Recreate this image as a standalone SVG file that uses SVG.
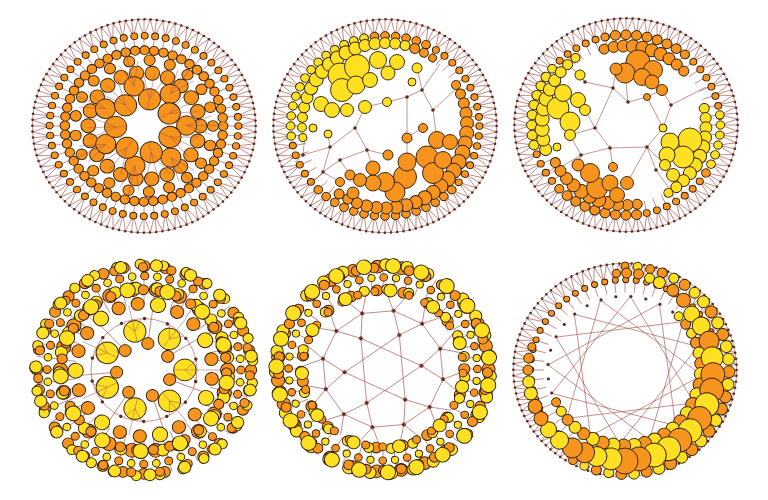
<svg xmlns="http://www.w3.org/2000/svg" width="768" height="500" viewBox="0 0 768 500">
<style>
.o{fill:#f7941d;stroke:#2b1a0c;stroke-width:.9}
.y{fill:#fde022;stroke:#2b1a0c;stroke-width:.9}
.e{fill:none;stroke:#a24c45;stroke-width:.6}
.d{fill:#5c2b1d}
.rk,.ro,.ry,.rd{fill:none;stroke-linecap:round}
.rk{stroke:#2b1a0c}.ro{stroke:#f7941d}.ry{stroke:#fde022}.rd{stroke:#5c2b1d}
</style>
<rect width="768" height="500" fill="#fff"/>
<defs>
<path id="f" d="M-6.17,-109.83L0,-93L6.17,-109.83L10.41,-92.41L18.43,-108.45L20.69,-90.67L30.45,-105.7L30.72,-87.78L42.1,-101.63M0,-110V-80M12.32,-109.31L10.41,-92.41L8.96,-79.5M24.48,-107.24L20.69,-90.67L17.8,-78M36.33,-103.83L30.72,-87.78L26.42,-75.51"/>
<path id="t4" d="M0,-67V-106M8.75,-66.43L13.84,-105.09M17.34,-64.72L27.43,-102.39M25.64,-61.9L40.56,-97.93"/>
<path id="t5" d="M0,-80V-104M10.44,-79.32L13.58,-103.11M20.71,-77.27L26.92,-100.46M30.61,-73.91L39.8,-96.08"/>
<path id="ea" d="M0,-17V-56M0,-28L11.44,-53.8M0,-28L-11.44,-53.8"/>
<path id="eb" d="M0,-42V-78M0,-42L9.5,-66.3M0,-42L-9.5,-66.3"/>
<path id="ec" d="M0,-21V-67"/>
<path id="ed" d="M0,-29V-67M0,-40L9,-51M0,-40L-9,-51"/>
<g id="pr">
<path d="M0,-60L30,-51.96L51.96,-30M0,-60L9.83,-36.71L30,-51.96M9.83,-36.71L26.87,26.87M0,-60L-11,-78.2M0,-60L11,-78.2M30,-51.96L29.6,-73.25M30,-51.96L48.64,-62.25"/>
<circle class="d" cy="-60" r="1.8"/><circle class="d" cx="30" cy="-51.96" r="1.8"/><circle class="d" cx="9.83" cy="-36.71" r="1.8"/>
</g>
</defs>

<!-- Panel 1 -->
<g id="p1" transform="translate(144,126)">
<g transform="scale(1.015,0.97)">
<g class="e"><circle r="110"/><use href="#f"/><use href="#f" transform="rotate(25.714)"/><use href="#f" transform="rotate(51.429)"/><use href="#f" transform="rotate(77.143)"/><use href="#f" transform="rotate(102.857)"/><use href="#f" transform="rotate(128.571)"/><use href="#f" transform="rotate(154.286)"/><use href="#f" transform="rotate(180)"/><use href="#f" transform="rotate(205.714)"/><use href="#f" transform="rotate(231.429)"/><use href="#f" transform="rotate(257.143)"/><use href="#f" transform="rotate(282.857)"/><use href="#f" transform="rotate(308.571)"/><use href="#f" transform="rotate(334.286)"/></g>
<circle r="110" class="rd" stroke-width="2.6" stroke-dasharray="0 6.171"/>
<circle r="93" class="rk" stroke-width="7.9" stroke-dasharray="0 10.4346"/>
<circle r="93" class="ro" stroke-width="6.1" stroke-dasharray="0 10.4346"/>
<circle r="78" class="rk" stroke-width="10.3" stroke-dasharray="0 9.4248"/>
<circle r="78" class="ro" stroke-width="8.5" stroke-dasharray="0 9.4248"/>
<circle r="68" class="rk" stroke-width="11.9" stroke-dasharray="0 20.3456"/>
<circle r="68" class="ro" stroke-width="10.1" stroke-dasharray="0 20.3456"/>
<circle r="55" class="rk" stroke-width="15.3" stroke-dasharray="0 15.708"/>
<circle r="55" class="ro" stroke-width="13.5" stroke-dasharray="0 15.708"/>
<g class="o">
<circle r="10" cy="-42" transform="rotate(38)"/>
<circle r="10" cy="-42" transform="rotate(89.4)"/>
<circle r="10" cy="-42" transform="rotate(140.9)"/>
<circle r="10" cy="-42" transform="rotate(192.3)"/>
<circle r="10" cy="-42" transform="rotate(243.7)"/>
<circle r="10" cy="-42" transform="rotate(295.1)"/>
<circle r="10" cy="-42" transform="rotate(346.6)"/>
<circle r="11" cy="-28" transform="rotate(11)"/>
<circle r="11" cy="-28" transform="rotate(62.4)"/>
<circle r="11" cy="-28" transform="rotate(113.9)"/>
<circle r="11" cy="-28" transform="rotate(165.3)"/>
<circle r="11" cy="-28" transform="rotate(216.7)"/>
<circle r="11" cy="-28" transform="rotate(268.1)"/>
<circle r="11" cy="-28" transform="rotate(319.6)"/>
</g>
<g class="e" opacity=".75">
<use href="#ea" transform="rotate(11)"/><use href="#ea" transform="rotate(62.4)"/><use href="#ea" transform="rotate(113.9)"/><use href="#ea" transform="rotate(165.3)"/><use href="#ea" transform="rotate(216.7)"/><use href="#ea" transform="rotate(268.1)"/><use href="#ea" transform="rotate(319.6)"/>
<use href="#eb" transform="rotate(38)"/><use href="#eb" transform="rotate(89.4)"/><use href="#eb" transform="rotate(140.9)"/><use href="#eb" transform="rotate(192.3)"/><use href="#eb" transform="rotate(243.7)"/><use href="#eb" transform="rotate(295.1)"/><use href="#eb" transform="rotate(346.6)"/>
</g>
</g>
</g>

<!-- Panel 2 -->
<g id="p2" transform="translate(385,126)">
<g transform="scale(1.015,0.97)">
<g class="e"><circle r="110"/><use href="#f"/><use href="#f" transform="rotate(25.714)"/><use href="#f" transform="rotate(51.429)"/><use href="#f" transform="rotate(77.143)"/><use href="#f" transform="rotate(102.857)"/><use href="#f" transform="rotate(128.571)"/><use href="#f" transform="rotate(154.286)"/><use href="#f" transform="rotate(180)"/><use href="#f" transform="rotate(205.714)"/><use href="#f" transform="rotate(231.429)"/><use href="#f" transform="rotate(257.143)"/><use href="#f" transform="rotate(282.857)"/><use href="#f" transform="rotate(308.571)"/><use href="#f" transform="rotate(334.286)"/></g>
<circle r="110" class="rd" stroke-width="2.6" stroke-dasharray="0 6.171"/>
<circle r="93" class="rk" stroke-width="7.9" stroke-dasharray="0 10.4346"/>
<circle r="93" class="ro" stroke-width="6.1" stroke-dasharray="0 10.4346"/>
<g class="y">
<circle r="4.3" cy="-93" transform="rotate(263.57)"/><circle r="4.3" cy="-93" transform="rotate(270)"/><circle r="4.3" cy="-93" transform="rotate(276.43)"/><circle r="4.3" cy="-93" transform="rotate(282.86)"/><circle r="4.3" cy="-93" transform="rotate(289.29)"/><circle r="4.3" cy="-93" transform="rotate(295.71)"/><circle r="4.3" cy="-93" transform="rotate(302.14)"/><circle r="4.3" cy="-93" transform="rotate(308.57)"/><circle r="4.3" cy="-93" transform="rotate(315)"/><circle r="4.3" cy="-93" transform="rotate(321.43)"/><circle r="4.3" cy="-93" transform="rotate(327.86)"/><circle r="4.3" cy="-93" transform="rotate(334.29)"/><circle r="4.3" cy="-93" transform="rotate(340.71)"/><circle r="4.3" cy="-93" transform="rotate(347.14)"/>
</g>
<g class="o">
<circle r="4.3" cy="-93" transform="rotate(353.57)"/><circle r="4.3" cy="-93"/><circle r="4.3" cy="-93" transform="rotate(6.43)"/><circle r="4.3" cy="-93" transform="rotate(12.86)"/><circle r="4.3" cy="-93" transform="rotate(19.29)"/><circle r="4.3" cy="-93" transform="rotate(25.71)"/>
<circle r="4.3" cy="-93" transform="rotate(135)"/><circle r="4.3" cy="-93" transform="rotate(141.43)"/><circle r="4.3" cy="-93" transform="rotate(147.86)"/><circle r="4.3" cy="-93" transform="rotate(154.29)"/><circle r="4.3" cy="-93" transform="rotate(160.71)"/><circle r="4.3" cy="-93" transform="rotate(167.14)"/><circle r="4.3" cy="-93" transform="rotate(173.57)"/><circle r="4.3" cy="-93" transform="rotate(180)"/><circle r="4.3" cy="-93" transform="rotate(186.43)"/><circle r="4.3" cy="-93" transform="rotate(192.86)"/><circle r="4.3" cy="-93" transform="rotate(199.29)"/><circle r="4.3" cy="-93" transform="rotate(205.71)"/><circle r="4.3" cy="-93" transform="rotate(212.14)"/><circle r="4.3" cy="-93" transform="rotate(218.57)"/><circle r="4.3" cy="-93" transform="rotate(225)"/>
</g>
</g>
<path class="e" d="M22,-29L22,11M22,-29L37,-36L32,-58M22,-29L2,-24L-20,-19L-30,2L-18,24L3,29M-18,24L-12,42M-30,2L-55,21L-82,29L-90,36M-55,21L-57,8M37,-36L48,-16L52,14M48,-16L72,-38M37,-36L55,-62M22,11L38,2M22,11L22,36M-55,21L-62,46L-45,56M-62,46L-76,60M-18,24L-45,34L-62,46M-45,34L-35,49M-82,29L-80,8"/>
<g class="y">
<circle r="4" cy="-83" transform="rotate(262)"/><circle r="4.5" cy="-83" transform="rotate(269)"/><circle r="5" cy="-83" transform="rotate(276)"/><circle r="5.5" cy="-83" transform="rotate(283)"/><circle r="6" cy="-83" transform="rotate(290)"/><circle r="6.5" cy="-83" transform="rotate(297)"/><circle r="7" cy="-83" transform="rotate(304)"/><circle r="7" cy="-83" transform="rotate(311)"/><circle r="7" cy="-83" transform="rotate(318)"/><circle r="7" cy="-83" transform="rotate(325)"/><circle r="7" cy="-83" transform="rotate(332)"/><circle r="6.5" cy="-83" transform="rotate(339)"/><circle r="6" cy="-83" transform="rotate(346)"/><circle r="6" cy="-83" transform="rotate(353)"/><circle r="5.5" cy="-83"/><circle r="5.5" cy="-83" transform="rotate(7)"/><circle r="5" cy="-83" transform="rotate(14)"/>
</g>
<g class="o">
<circle r="5" cy="-83" transform="rotate(21)"/><circle r="4.5" cy="-83" transform="rotate(28)"/><circle r="4" cy="-83" transform="rotate(35)"/>
</g>
<g class="y">
<circle cx="-45" cy="-51" r="12"/><circle cx="-28" cy="-59" r="12.5"/><circle cx="-43" cy="-36" r="11.5"/><circle cx="-29" cy="-41" r="9"/><circle cx="-7" cy="-66" r="8.5"/><circle cx="12" cy="-64" r="7.5"/><circle cx="3" cy="-53" r="7"/><circle cx="-15" cy="-46" r="7.5"/><circle cx="-64" cy="-22" r="7.5"/><circle cx="-53" cy="-16" r="7.5"/><circle cx="-38" cy="-16" r="6.5"/><circle cx="-20" cy="-19" r="6.5"/><circle cx="-72" cy="2" r="4"/><circle cx="-57" cy="8" r="4"/><circle cx="32" cy="-58" r="5"/><circle cx="27" cy="-44" r="4"/><circle cx="2" cy="-24" r="4.5"/>
</g>
<g class="o">
<circle r="4.5" cy="-82" transform="rotate(60)"/><circle r="5" cy="-82" transform="rotate(67)"/><circle r="5.5" cy="-82" transform="rotate(74)"/><circle r="6" cy="-82" transform="rotate(81)"/><circle r="6.5" cy="-82" transform="rotate(88)"/><circle r="7" cy="-82" transform="rotate(95)"/><circle r="7" cy="-82" transform="rotate(102)"/><circle r="7.5" cy="-82" transform="rotate(109)"/><circle r="7.5" cy="-82" transform="rotate(116)"/><circle r="7.5" cy="-82" transform="rotate(123)"/><circle r="7.5" cy="-82" transform="rotate(130)"/><circle r="7" cy="-82" transform="rotate(137)"/><circle r="7" cy="-82" transform="rotate(144)"/><circle r="7" cy="-82" transform="rotate(151)"/><circle r="6.5" cy="-82" transform="rotate(158)"/><circle r="6.5" cy="-82" transform="rotate(165)"/><circle r="6.5" cy="-82" transform="rotate(172)"/><circle r="6" cy="-82" transform="rotate(179)"/><circle r="6" cy="-82" transform="rotate(186)"/><circle r="6" cy="-82" transform="rotate(193)"/><circle r="5.5" cy="-82" transform="rotate(200)"/><circle r="5" cy="-82" transform="rotate(207)"/><circle r="5" cy="-82" transform="rotate(214)"/>
<circle cx="20" cy="51" r="11.5"/><circle cx="10" cy="66" r="10"/><circle cx="42" cy="31" r="11"/><circle cx="48" cy="47" r="10.5"/><circle cx="58" cy="34" r="8.5"/><circle cx="52" cy="14" r="8.5"/><circle cx="65" cy="16" r="7.5"/><circle cx="22" cy="36" r="9"/><circle cx="0" cy="56" r="9.5"/><circle cx="-12" cy="57" r="8"/><circle cx="-12" cy="42" r="7"/><circle cx="-25" cy="54" r="6.5"/><circle cx="-32" cy="67" r="6"/><circle cx="38" cy="2" r="4.5"/><circle cx="22" cy="12" r="5"/><circle cx="3" cy="29" r="5"/><circle cx="-35" cy="49" r="5"/><circle cx="-45" cy="56" r="4.5"/>
</g>
<g class="d">
<circle cx="22" cy="-29" r="1.8"/><circle cx="37" cy="-36" r="1.8"/><circle cx="48" cy="-16" r="1.8"/><circle cx="-30" cy="2" r="1.8"/><circle cx="-18" cy="24" r="1.8"/><circle cx="-55" cy="21" r="1.8"/><circle cx="-82" cy="29" r="1.8"/><circle cx="-62" cy="46" r="1.8"/><circle cx="-45" cy="34" r="1.8"/>
</g>
</g>

<!-- Panel 3 -->
<g id="p3" transform="translate(626,125)">
<g transform="scale(1.015,0.97)">
<g class="e"><circle r="110"/><use href="#f"/><use href="#f" transform="rotate(25.714)"/><use href="#f" transform="rotate(51.429)"/><use href="#f" transform="rotate(77.143)"/><use href="#f" transform="rotate(102.857)"/><use href="#f" transform="rotate(128.571)"/><use href="#f" transform="rotate(154.286)"/><use href="#f" transform="rotate(180)"/><use href="#f" transform="rotate(205.714)"/><use href="#f" transform="rotate(231.429)"/><use href="#f" transform="rotate(257.143)"/><use href="#f" transform="rotate(282.857)"/><use href="#f" transform="rotate(308.571)"/><use href="#f" transform="rotate(334.286)"/></g>
<circle r="110" class="rd" stroke-width="2.6" stroke-dasharray="0 6.171"/>
<circle r="93" class="rk" stroke-width="7.9" stroke-dasharray="0 10.4346"/>
<circle r="93" class="ro" stroke-width="6.1" stroke-dasharray="0 10.4346"/>
<g class="o">
<circle r="4" cy="-93" transform="rotate(347.14)"/><circle r="5" cy="-93" transform="rotate(353.57)"/><circle r="5" cy="-93"/><circle r="5" cy="-93" transform="rotate(6.43)"/><circle r="5" cy="-93" transform="rotate(12.86)"/><circle r="5" cy="-93" transform="rotate(19.29)"/><circle r="5" cy="-93" transform="rotate(25.71)"/><circle r="5" cy="-93" transform="rotate(32.14)"/><circle r="4.5" cy="-93" transform="rotate(38.57)"/>
<circle r="5" cy="-93" transform="rotate(173.57)"/><circle r="5" cy="-93" transform="rotate(180)"/><circle r="5" cy="-93" transform="rotate(186.43)"/><circle r="5" cy="-93" transform="rotate(192.86)"/><circle r="5" cy="-93" transform="rotate(199.29)"/><circle r="5" cy="-93" transform="rotate(205.71)"/><circle r="5" cy="-93" transform="rotate(212.14)"/><circle r="5" cy="-93" transform="rotate(218.57)"/><circle r="4.5" cy="-93" transform="rotate(225)"/>
<circle r="4.3" cy="-93" transform="rotate(122.14)"/>
</g>
<g class="y">
<circle r="5" cy="-93" transform="rotate(257.14)"/><circle r="5" cy="-93" transform="rotate(263.57)"/><circle r="5" cy="-93" transform="rotate(270)"/><circle r="5" cy="-93" transform="rotate(276.43)"/><circle r="5" cy="-93" transform="rotate(282.86)"/><circle r="5" cy="-93" transform="rotate(289.29)"/><circle r="5" cy="-93" transform="rotate(295.71)"/><circle r="5" cy="-93" transform="rotate(302.14)"/><circle r="4.5" cy="-93" transform="rotate(308.57)"/>
<circle r="4.3" cy="-93" transform="rotate(83.57)"/><circle r="4.3" cy="-93" transform="rotate(90)"/><circle r="4.3" cy="-93" transform="rotate(96.43)"/><circle r="4.3" cy="-93" transform="rotate(102.86)"/><circle r="4.3" cy="-93" transform="rotate(109.29)"/><circle r="4.3" cy="-93" transform="rotate(115.71)"/>
</g>
</g>
<path class="e" d="M-13,-37L-31,3L-16,23L21,22L37,3L21,-28L2,-23ZM-13,-37L-41,-43L-46,-50M-41,-43L-62,-66M-13,-37L-10,-56M2,-23L-1,-52M-31,3L-41,-15M-31,3L-56,10M-16,23L-13,42M-16,23L-45,30L-56,10M-45,30L-75,48M-45,30L-48,40M21,22L39,40M21,22L1,58M21,22L30,45L48,70M37,3L44,17M37,3L45,-20L80,-38M45,-20L36,-35M21,-28L36,-35"/>
<g class="o">
<circle r="5" cy="-79" transform="rotate(-16)"/><circle r="5.5" cy="-79" transform="rotate(-9)"/><circle r="6" cy="-79" transform="rotate(-2)"/><circle r="6.5" cy="-79" transform="rotate(5)"/><circle r="6.5" cy="-79" transform="rotate(12)"/><circle r="6.5" cy="-79" transform="rotate(19)"/><circle r="6.5" cy="-79" transform="rotate(26)"/><circle r="6" cy="-79" transform="rotate(33)"/><circle r="5.5" cy="-79" transform="rotate(40)"/><circle r="5" cy="-79" transform="rotate(47)"/>
<circle cx="12" cy="-63" r="12"/><circle cx="-1" cy="-52" r="10"/><circle cx="27" cy="-55" r="9.5"/><circle cx="16" cy="-48" r="8.5"/><circle cx="26" cy="-43" r="7"/><circle cx="36" cy="-35" r="5.5"/><circle cx="-10" cy="-56" r="6"/><circle cx="21" cy="-28" r="3.5"/>
<circle r="5" cy="-80" transform="rotate(172)"/><circle r="5.5" cy="-80" transform="rotate(179)"/><circle r="6" cy="-80" transform="rotate(186)"/><circle r="6.5" cy="-80" transform="rotate(193)"/><circle r="7" cy="-80" transform="rotate(200)"/><circle r="7" cy="-80" transform="rotate(207)"/><circle r="7" cy="-80" transform="rotate(214)"/><circle r="6.5" cy="-80" transform="rotate(221)"/><circle r="6" cy="-80" transform="rotate(228)"/><circle r="5.5" cy="-80" transform="rotate(235)"/><circle r="5" cy="-80" transform="rotate(242)"/>
<circle cx="-29" cy="63" r="10.5"/><circle cx="-36" cy="48" r="9.5"/><circle cx="-16" cy="58" r="8"/><circle cx="-9" cy="70" r="7.5"/><circle cx="1" cy="58" r="6.5"/><circle cx="-13" cy="42" r="4.5"/><circle cx="-48" cy="40" r="6"/>
</g>
<g class="y">
<circle r="6" cy="-84" transform="rotate(253)"/><circle r="6.5" cy="-84" transform="rotate(260)"/><circle r="7" cy="-84" transform="rotate(267)"/><circle r="7" cy="-84" transform="rotate(274)"/><circle r="7" cy="-84" transform="rotate(281)"/><circle r="7" cy="-84" transform="rotate(288)"/><circle r="6.5" cy="-84" transform="rotate(295)"/><circle r="6" cy="-84" transform="rotate(302)"/><circle r="5.5" cy="-84" transform="rotate(309)"/><circle r="5" cy="-84" transform="rotate(316)"/><circle r="4.5" cy="-84" transform="rotate(323)"/>
<circle cx="-68" cy="-17" r="11"/><circle cx="-56" cy="-3" r="10"/><circle cx="-63" cy="-32" r="8.5"/><circle cx="-48" cy="-25" r="7.5"/><circle cx="-41" cy="-15" r="5.5"/><circle cx="-56" cy="10" r="5.5"/><circle cx="-69" cy="22" r="4"/><circle cx="-46" cy="-50" r="5"/>
<circle r="5" cy="-80" transform="rotate(78)"/><circle r="5.5" cy="-80" transform="rotate(85)"/><circle r="6" cy="-80" transform="rotate(92)"/><circle r="6.5" cy="-80" transform="rotate(99)"/><circle r="7" cy="-80" transform="rotate(106)"/><circle r="7" cy="-80" transform="rotate(113)"/><circle r="7" cy="-80" transform="rotate(120)"/><circle r="6.5" cy="-80" transform="rotate(127)"/><circle r="6" cy="-80" transform="rotate(134)"/><circle r="5.5" cy="-80" transform="rotate(141)"/><circle r="4.5" cy="-80" transform="rotate(148)"/>
<circle cx="64" cy="15" r="12"/><circle cx="57" cy="32" r="11"/><circle cx="44" cy="17" r="9"/><circle cx="41" cy="30" r="8"/><circle cx="47" cy="50" r="6.5"/><circle cx="39" cy="40" r="5.5"/><circle cx="37" cy="3" r="4"/>
</g>
<g class="d">
<circle cx="-13" cy="-37" r="1.8"/><circle cx="-31" cy="3" r="1.8"/><circle cx="-16" cy="23" r="1.8"/><circle cx="21" cy="22" r="1.8"/><circle cx="2" cy="-23" r="1.8"/><circle cx="-41" cy="-43" r="1.8"/><circle cx="-45" cy="30" r="1.8"/><circle cx="30" cy="45" r="1.8"/><circle cx="45" cy="-20" r="1.8"/>
</g>
</g>

<!-- Panel 4 -->
<g id="p4" transform="translate(144,370) scale(1.02,0.99)">
<g class="e">
<use href="#t4"/><use href="#t4" transform="rotate(30)"/><use href="#t4" transform="rotate(60)"/><use href="#t4" transform="rotate(90)"/><use href="#t4" transform="rotate(120)"/><use href="#t4" transform="rotate(150)"/><use href="#t4" transform="rotate(180)"/><use href="#t4" transform="rotate(210)"/><use href="#t4" transform="rotate(240)"/><use href="#t4" transform="rotate(270)"/><use href="#t4" transform="rotate(300)"/><use href="#t4" transform="rotate(330)"/>
<circle r="52"/>
<use href="#ec" transform="rotate(8)"/><use href="#ec" transform="rotate(59.4)"/><use href="#ec" transform="rotate(110.9)"/><use href="#ec" transform="rotate(162.3)"/><use href="#ec" transform="rotate(213.7)"/><use href="#ec" transform="rotate(265.1)"/><use href="#ec" transform="rotate(316.6)"/>
</g>
<circle r="52" class="rd" stroke-width="3.4" stroke-dasharray="0 23.3376" transform="rotate(13)"/>
<circle r="105" class="rk" stroke-width="11.9" stroke-dasharray="0 20.6167"/>
<circle r="105" class="ro" stroke-width="10.1" stroke-dasharray="0 20.6167"/>
<g transform="rotate(7)"><circle r="107" class="rk" stroke-width="10.9" stroke-dasharray="0 23.1828"/><circle r="107" class="ry" stroke-width="9.1" stroke-dasharray="0 23.1828"/></g>
<g transform="rotate(3)"><circle r="104" class="rk" stroke-width="9.9" stroke-dasharray="0 28.4109"/><circle r="104" class="ro" stroke-width="8.1" stroke-dasharray="0 28.4109"/></g>
<g transform="rotate(11)"><circle r="106" class="rk" stroke-width="12.9" stroke-dasharray="0 35.0536"/><circle r="106" class="ry" stroke-width="11.1" stroke-dasharray="0 35.0536"/></g>
<circle r="95" class="rk" stroke-width="8.9" stroke-dasharray="0 24.871"/>
<circle r="95" class="ro" stroke-width="7.1" stroke-dasharray="0 24.871"/>
<g transform="rotate(7.5)"><circle r="95" class="rk" stroke-width="8.5" stroke-dasharray="0 24.871"/><circle r="95" class="ry" stroke-width="6.7" stroke-dasharray="0 24.871"/></g>
<circle r="82" class="rk" stroke-width="14.9" stroke-dasharray="0 23.4191"/>
<circle r="82" class="ro" stroke-width="13.1" stroke-dasharray="0 23.4191"/>
<g transform="rotate(5)"><circle r="83" class="rk" stroke-width="12.9" stroke-dasharray="0 20.8602"/><circle r="83" class="ry" stroke-width="11.1" stroke-dasharray="0 20.8602"/></g>
<g transform="rotate(2)"><circle r="81" class="rk" stroke-width="10.9" stroke-dasharray="0 16.4174"/><circle r="81" class="ro" stroke-width="9.1" stroke-dasharray="0 16.4174"/></g>
<g transform="rotate(9)"><circle r="82" class="rk" stroke-width="15.9" stroke-dasharray="0 39.6324"/><circle r="82" class="ry" stroke-width="14.1" stroke-dasharray="0 39.6324"/></g>
<g transform="rotate(-95.3)"><circle r="67" class="rk" stroke-width="13.9" stroke-dasharray="0 20.0463"/><circle r="67" class="ro" stroke-width="12.1" stroke-dasharray="0 20.0463"/></g>
<g transform="rotate(-78.16)"><circle r="67" class="rk" stroke-width="15.9" stroke-dasharray="0 60.139"/><circle r="67" class="ry" stroke-width="14.1" stroke-dasharray="0 60.139"/></g>
<g class="y">
<circle r="11" cy="-40" transform="rotate(-13)"/><circle r="11" cy="-40" transform="rotate(38.4)"/><circle r="11" cy="-40" transform="rotate(89.9)"/><circle r="11" cy="-40" transform="rotate(141.3)"/><circle r="11" cy="-40" transform="rotate(192.7)"/><circle r="11" cy="-40" transform="rotate(244.1)"/><circle r="11" cy="-40" transform="rotate(295.6)"/>
</g>
<g class="o">
<circle r="6" cy="-27" transform="rotate(8)"/><circle r="6" cy="-27" transform="rotate(59.4)"/><circle r="6" cy="-27" transform="rotate(110.9)"/><circle r="6" cy="-27" transform="rotate(162.3)"/><circle r="6" cy="-27" transform="rotate(213.7)"/><circle r="6" cy="-27" transform="rotate(265.1)"/><circle r="6" cy="-27" transform="rotate(316.6)"/>
</g>
<g class="e" opacity=".75">
<use href="#ed" transform="rotate(-13)"/><use href="#ed" transform="rotate(38.4)"/><use href="#ed" transform="rotate(89.9)"/><use href="#ed" transform="rotate(141.3)"/><use href="#ed" transform="rotate(192.7)"/><use href="#ed" transform="rotate(244.1)"/><use href="#ed" transform="rotate(295.6)"/>
</g>
</g>

<!-- Panel 5 -->
<g id="p5" transform="translate(383,369) scale(1.015,0.985)">
<g class="e">
<use href="#t5"/><use href="#t5" transform="rotate(30)"/><use href="#t5" transform="rotate(60)"/><use href="#t5" transform="rotate(90)"/><use href="#t5" transform="rotate(120)"/><use href="#t5" transform="rotate(150)"/><use href="#t5" transform="rotate(180)"/><use href="#t5" transform="rotate(210)"/><use href="#t5" transform="rotate(240)"/><use href="#t5" transform="rotate(270)"/><use href="#t5" transform="rotate(300)"/><use href="#t5" transform="rotate(330)"/>
</g>
<g class="e" transform="rotate(10)">
<use href="#pr"/><use href="#pr" transform="rotate(60)"/><use href="#pr" transform="rotate(120)"/><use href="#pr" transform="rotate(180)"/><use href="#pr" transform="rotate(240)"/><use href="#pr" transform="rotate(300)"/>
</g>
<circle r="104" class="rk" stroke-width="13.9" stroke-dasharray="0 24.2019"/>
<circle r="104" class="ro" stroke-width="12.1" stroke-dasharray="0 24.2019"/>
<g transform="rotate(4)"><circle r="106" class="rk" stroke-width="12.9" stroke-dasharray="0 21.4845"/><circle r="106" class="ry" stroke-width="11.1" stroke-dasharray="0 21.4845"/></g>
<g transform="rotate(2)"><circle r="103" class="rk" stroke-width="10.9" stroke-dasharray="0 17.491"/><circle r="103" class="ro" stroke-width="9.1" stroke-dasharray="0 17.491"/></g>
<g transform="rotate(9)"><circle r="105" class="rk" stroke-width="15.9" stroke-dasharray="0 28.6841"/><circle r="105" class="ry" stroke-width="14.1" stroke-dasharray="0 28.6841"/></g>
<circle r="93" class="rk" stroke-width="8.5" stroke-dasharray="0 24.3473"/>
<circle r="93" class="ro" stroke-width="6.7" stroke-dasharray="0 24.3473"/>
<g transform="rotate(7.5)"><circle r="93" class="rk" stroke-width="8.1" stroke-dasharray="0 24.3473"/><circle r="93" class="ry" stroke-width="6.3" stroke-dasharray="0 24.3473"/></g>
<circle r="80" class="rk" stroke-width="11.9" stroke-dasharray="0 26.4555"/>
<circle r="80" class="ro" stroke-width="10.1" stroke-dasharray="0 26.4555"/>
<g transform="rotate(6)"><circle r="81" class="rk" stroke-width="10.9" stroke-dasharray="0 22.1277"/><circle r="81" class="ry" stroke-width="9.1" stroke-dasharray="0 22.1277"/></g>
<g transform="rotate(3)"><circle r="79" class="rk" stroke-width="8.9" stroke-dasharray="0 17.1163"/><circle r="79" class="ro" stroke-width="7.1" stroke-dasharray="0 17.1163"/></g>
<g transform="rotate(13)"><circle r="80" class="rk" stroke-width="13.9" stroke-dasharray="0 45.6959"/><circle r="80" class="ry" stroke-width="12.1" stroke-dasharray="0 45.6959"/></g>
</g>

<!-- Panel 6 -->
<g id="p6" transform="translate(625,370)">
<g transform="scale(1.015,0.97)">
<g class="e"><circle r="110"/><use href="#f"/><use href="#f" transform="rotate(25.714)"/><use href="#f" transform="rotate(51.429)"/><use href="#f" transform="rotate(77.143)"/><use href="#f" transform="rotate(102.857)"/><use href="#f" transform="rotate(128.571)"/><use href="#f" transform="rotate(154.286)"/><use href="#f" transform="rotate(180)"/><use href="#f" transform="rotate(205.714)"/><use href="#f" transform="rotate(231.429)"/><use href="#f" transform="rotate(257.143)"/><use href="#f" transform="rotate(282.857)"/><use href="#f" transform="rotate(308.571)"/><use href="#f" transform="rotate(334.286)"/></g>
<circle r="110" class="rd" stroke-width="2.6" stroke-dasharray="0 6.171"/>
<circle r="93" class="rk" stroke-width="6.9" stroke-dasharray="0 10.4346"/>
<circle r="93" class="ro" stroke-width="5.1" stroke-dasharray="0 10.4346"/>
<g transform="rotate(4)">
<path class="e" d="M0,-76L70.22,29.08L-53.74,53.74L-29.08,-70.22L76,0L-29.08,70.22L-53.74,-53.74L70.22,-29.08L0,76L-70.22,-29.08L53.74,-53.74L29.08,70.22L-76,0L29.08,-70.22L53.74,53.74L-70.22,29.08Z"/>
<circle r="76" class="rd" stroke-width="3.2" stroke-dasharray="0 14.9226"/>
</g>
</g>
<g>
<circle class="o" r="4" cy="-104"/><circle class="y" r="4.5" cy="-104" transform="rotate(7)"/><circle class="o" r="4.5" cy="-104" transform="rotate(14)"/><circle class="o" r="5" cy="-104" transform="rotate(21)"/><circle class="y" r="5" cy="-104" transform="rotate(28)"/><circle class="o" r="5.5" cy="-104" transform="rotate(35)"/><circle class="y" r="5.5" cy="-104" transform="rotate(42)"/><circle class="y" r="6" cy="-104" transform="rotate(49)"/><circle class="o" r="6" cy="-104" transform="rotate(56)"/><circle class="y" r="6" cy="-104" transform="rotate(63)"/><circle class="o" r="6" cy="-104" transform="rotate(70)"/><circle class="y" r="6" cy="-104" transform="rotate(77)"/><circle class="y" r="6" cy="-104" transform="rotate(84)"/><circle class="o" r="6" cy="-104" transform="rotate(91)"/><circle class="y" r="6" cy="-104" transform="rotate(98)"/><circle class="o" r="6" cy="-104" transform="rotate(105)"/><circle class="o" r="6" cy="-104" transform="rotate(112)"/><circle class="y" r="6" cy="-104" transform="rotate(119)"/><circle class="o" r="6" cy="-104" transform="rotate(126)"/><circle class="y" r="6" cy="-104" transform="rotate(133)"/><circle class="o" r="6" cy="-104" transform="rotate(140)"/><circle class="y" r="6" cy="-104" transform="rotate(147)"/><circle class="o" r="6" cy="-104" transform="rotate(154)"/><circle class="y" r="6" cy="-104" transform="rotate(161)"/><circle class="o" r="5.5" cy="-104" transform="rotate(168)"/><circle class="y" r="5.5" cy="-104" transform="rotate(175)"/><circle class="o" r="5.5" cy="-104" transform="rotate(182)"/><circle class="y" r="5" cy="-104" transform="rotate(189)"/><circle class="o" r="5" cy="-104" transform="rotate(196)"/><circle class="y" r="4.5" cy="-104" transform="rotate(203)"/><circle class="o" r="4.5" cy="-104" transform="rotate(210)"/>
</g>
<g>
<circle class="y" r="4.5" cy="-76" transform="rotate(45)"/><circle class="o" r="5" cy="-76" transform="rotate(53)"/><circle class="y" r="5" cy="-76" transform="rotate(61)"/><circle class="o" r="5.5" cy="-76" transform="rotate(69)"/><circle class="y" r="6" cy="-76" transform="rotate(77)"/><circle class="o" r="6" cy="-76" transform="rotate(85)"/><circle class="y" r="6.5" cy="-76" transform="rotate(93)"/><circle class="o" r="6.5" cy="-76" transform="rotate(101)"/><circle class="y" r="7" cy="-76" transform="rotate(109)"/><circle class="o" r="7" cy="-76" transform="rotate(117)"/><circle class="y" r="7" cy="-76" transform="rotate(125)"/><circle class="o" r="7" cy="-76" transform="rotate(133)"/><circle class="y" r="7" cy="-76" transform="rotate(141)"/><circle class="o" r="7" cy="-76" transform="rotate(149)"/><circle class="y" r="7" cy="-76" transform="rotate(157)"/><circle class="o" r="7" cy="-76" transform="rotate(165)"/><circle class="y" r="7" cy="-76" transform="rotate(173)"/><circle class="o" r="7" cy="-76" transform="rotate(181)"/><circle class="y" r="7" cy="-76" transform="rotate(189)"/><circle class="o" r="6.5" cy="-76" transform="rotate(197)"/><circle class="y" r="6.5" cy="-76" transform="rotate(205)"/><circle class="o" r="6" cy="-76" transform="rotate(213)"/><circle class="y" r="6" cy="-76" transform="rotate(221)"/><circle class="o" r="5.5" cy="-76" transform="rotate(229)"/><circle class="y" r="5" cy="-76" transform="rotate(237)"/><circle class="o" r="4.5" cy="-76" transform="rotate(245)"/>
</g>
<g>
<circle class="o" r="4" cy="-97" transform="rotate(-5)"/><circle class="o" r="5" cy="-97" transform="rotate(1)"/><circle class="o" r="5" cy="-97" transform="rotate(8)"/><circle class="y" r="5" cy="-95" transform="rotate(15)"/><circle class="y" r="6" cy="-94" transform="rotate(21.5)"/><circle class="o" r="6" cy="-93" transform="rotate(31)"/><circle class="o" r="7" cy="-91" transform="rotate(40)"/><circle class="y" r="8" cy="-87" transform="rotate(50)"/><circle class="y" r="9" cy="-88" transform="rotate(60)"/><circle class="o" r="10" cy="-89" transform="rotate(71)"/><circle class="y" r="11" cy="-88" transform="rotate(82)"/><circle class="o" r="12" cy="-88" transform="rotate(93)"/><circle class="o" r="12" cy="-89" transform="rotate(103)"/><circle class="y" r="12" cy="-89" transform="rotate(113)"/><circle class="o" r="12" cy="-89" transform="rotate(123)"/><circle class="y" r="12" cy="-89" transform="rotate(133)"/><circle class="o" r="12" cy="-89" transform="rotate(142)"/><circle class="y" r="12" cy="-90" transform="rotate(151)"/><circle class="y" r="12" cy="-90" transform="rotate(161)"/><circle class="o" r="12" cy="-90" transform="rotate(171)"/><circle class="o" r="13" cy="-91" transform="rotate(180)"/><circle class="y" r="11" cy="-90" transform="rotate(189)"/><circle class="y" r="10" cy="-91" transform="rotate(198)"/><circle class="o" r="10" cy="-92" transform="rotate(206)"/><circle class="o" r="10" cy="-94" transform="rotate(214)"/><circle class="y" r="9" cy="-96" transform="rotate(223)"/><circle class="y" r="8" cy="-97" transform="rotate(232)"/><circle class="o" r="7" cy="-97" transform="rotate(240)"/><circle class="o" r="7" cy="-97" transform="rotate(248)"/><circle class="y" r="6.5" cy="-97" transform="rotate(256)"/><circle class="y" r="6" cy="-97" transform="rotate(263)"/><circle class="o" r="5" cy="-97" transform="rotate(270)"/><circle class="o" r="5" cy="-97" transform="rotate(277)"/><circle class="o" r="4" cy="-96" transform="rotate(284)"/>
</g>
</g>
</svg>
